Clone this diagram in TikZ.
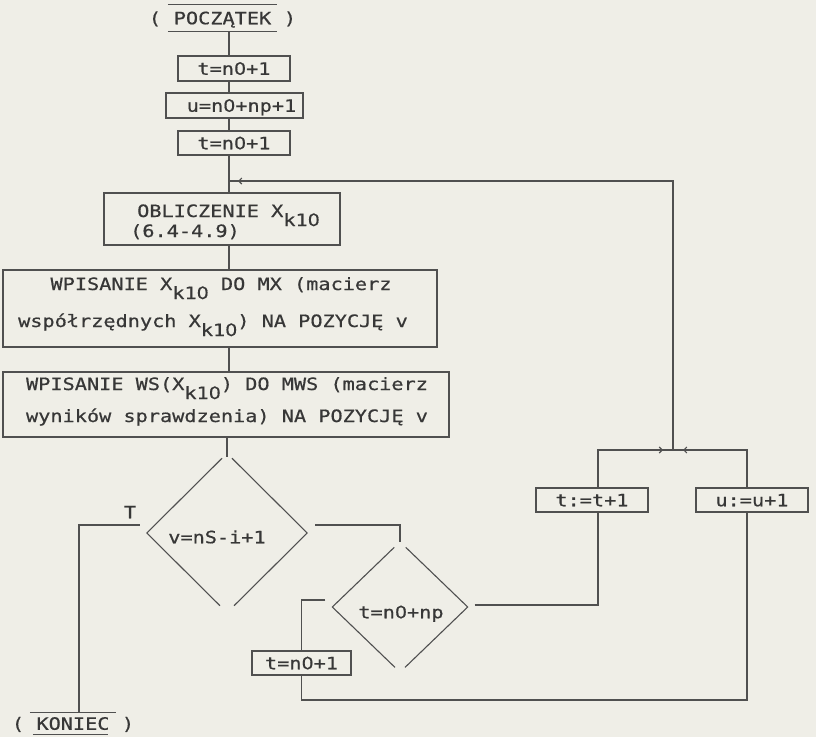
\documentclass[tikz,border=0pt]{standalone}
\usepackage{fontspec}
\usetikzlibrary{shapes.geometric,calc,arrows.meta,decorations.markings}
\newfontfamily\monofnt[FakeStretch=1.19,FakeBold=0.6]{DejaVu Sans Mono}
\newfontfamily\zerofnt[FakeStretch=1.12,FakeBold=0.6]{DejaVu Sans}
\newcommand\zr{{\zerofnt 0}}
\newcommand\lowsub[1]{\raisebox{-9pt}{#1}}
\definecolor{bg}{RGB}{239,238,231}
\definecolor{ink}{RGB}{80,80,80}
\definecolor{txtc}{RGB}{55,55,55}
\begin{document}
\begin{tikzpicture}[x=1pt,y=-1pt,
  line/.style={draw=ink,line width=1.1pt},
  txt/.style={inner sep=0pt,font=\monofnt\fontsize{17}{20}\selectfont,text=txtc,text height=12.5pt,text depth=0pt},
  box/.style={txt,line,rectangle},
  dia/.style={shape=diamond,draw=none,inner sep=0pt},
  tipat/.style={postaction={decorate},decoration={markings,mark=at position #1 with {\arrow[ink]{Straight Barb[length=3pt,width=6pt]}}}}
]
\fill[bg] (0,0) rectangle (816,737);
\useasboundingbox (0,0) rectangle (816,737);

% helper coordinates
\coordinate (sp) at (229,0);
\coordinate (tx) at (598,0);
\coordinate (ux) at (747,0);
\coordinate (kx) at (79,0);
\coordinate (j1) at (229,181);
\coordinate (j2) at (673,450);
\coordinate (lo) at (0,700);

% start
\node[txt,minimum width=109pt,minimum height=26pt] (start) at (222.5,18) {POCZĄTEK};
\draw[line] (start.north west) -- (start.north east);
\draw[line] (start.south west) -- (start.south east);
\node[txt] (lp) at (155,18) {(};
\node[txt] (rp) at (290,18) {)};

% boxes
\node[box,minimum width=112pt,minimum height=25pt] (b1) at (234,68.5) {t=n\zr+1};
\node[box,minimum width=137pt,minimum height=25pt] (b2) at (234.5,105.5) {\hspace{14pt}u=n\zr+np+1};
\node[box,minimum width=112pt,minimum height=24pt] (b3) at (234,143) {t=n\zr+1};

\node[box,minimum width=236pt,minimum height=52pt] (ob) at (222,219) {};
\node[txt,anchor=base west] (ob1) at (137,217) {OBLICZENIE X\lowsub{k1\zr}};
\node[txt,anchor=base west] (ob2) at (130,237) {(6.4-4.9)};

\node[box,minimum width=434pt,minimum height=77pt] (w1) at (220,308.5) {};
\node[txt,anchor=base] (w1a) at (221,290) {WPISANIE X\lowsub{k1\zr} DO MX (macierz};
\node[txt,anchor=base] (w1b) at (213,327) {współrzędnych X\lowsub{k1\zr}) NA POZYCJĘ v};

\node[box,minimum width=446pt,minimum height=65pt] (w2) at (226,404.5) {};
\node[txt,anchor=base] (w2a) at (227,390) {WPISANIE WS(X\lowsub{k1\zr}) DO MWS (macierz};
\node[txt,anchor=base] (w2b) at (227,422) {wyników sprawdzenia) NA POZYCJĘ v};

% decisions
\node[dia,minimum width=160pt,minimum height=159pt] (d1) at (227,533) {};
\node[txt] (d1t) at (217,537) {v=nS-i+1};
\draw[line] ($(d1.north)!7pt!(d1.west)$) -- (d1.west) -- ($(d1.south)!10pt!(d1.west)$);
\draw[line] ($(d1.north)!7pt!(d1.east)$) -- (d1.east) -- ($(d1.south)!10pt!(d1.east)$);
\node[txt] (tlab) at (130,512) {T};

\node[dia,minimum width=135pt,minimum height=130pt] (d2) at (400,607) {};
\node[txt] (d2t) at (401,612) {t=n\zr+np};
\draw[line] ($(d2.north)!8pt!(d2.west)$) -- (d2.west) -- ($(d2.south)!7pt!(d2.west)$);
\draw[line] ($(d2.north)!8pt!(d2.east)$) -- (d2.east) -- ($(d2.south)!7pt!(d2.east)$);

\node[box,minimum width=99pt,minimum height=24pt] (tb) at (301.5,663) {t=n\zr+1\hspace{12pt}};
\node[box,minimum width=112pt,minimum height=24pt] (bt) at (592,500) {t:=t+1};
\node[box,minimum width=112pt,minimum height=24pt] (bu) at (752,500) {u:=u+1};

% end
\node[txt,minimum width=86pt,minimum height=21pt] (en) at (73,723.5) {KONIEC};
\draw[line] (en.north west) -- (en.north east);
\draw[line] ([xshift=3pt]en.south west) -- ([xshift=-8pt]en.south east);
\node[txt] (lp2) at (18,723.5) {(};
\node[txt] (rp2) at (128,723.5) {)};

% spine
\draw[line] (start.south -| sp) -- (b1.north -| sp);
\draw[line] (b1.south -| sp) -- (b2.north -| sp);
\draw[line] (b2.south -| sp) -- (b3.north -| sp);
\draw[line] (b3.south -| sp) -- (ob.north -| sp);
\draw[line] (ob.south -| sp) -- (w1.north -| sp);
\draw[line] (w1.south -| sp) -- (w2.north -| sp);
\draw[line] (w2.south -| d1.north) -- ([yshift=-4pt]d1.north);

% branches of d1
\draw[line] ([shift={(-7pt,8pt)}]d1.west) -| (en.north -| kx);
\draw[line] ([shift={(8pt,8pt)}]d1.east) -| (d2.north);

% branches of d2
\draw[line] ([shift={(-7pt,7pt)}]d2.west) -| (tb.north);
\draw[line] ([shift={(7pt,2pt)}]d2.east) -| (bt.south -| tx);
\draw[line] (tb.south) -- (tb.south |- lo) -- (lo -| ux) -- (bu.south -| ux);

% loop back
\draw[line,tipat=-10pt] (bt.north -| tx) -- (tx |- j2) -- (j2);
\draw[line,tipat=-10pt] (bu.north -| ux) -- (ux |- j2) -- (j2);
\draw[line,tipat=-9pt] (j2) -- (j2 |- j1) -- (j1);
\end{tikzpicture}
\end{document}
